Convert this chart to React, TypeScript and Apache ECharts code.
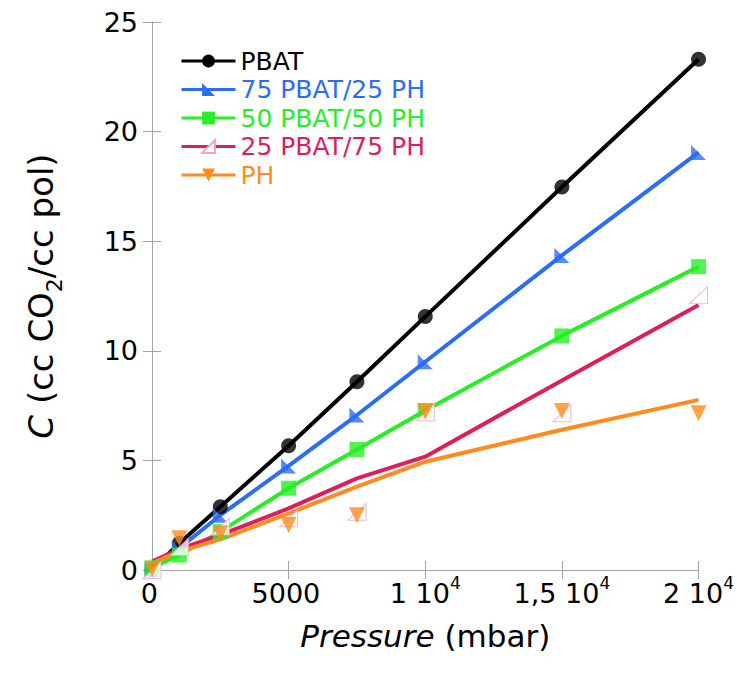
import React, { useEffect, useRef } from "react";
import * as echarts from "echarts";

const pressure = [0, 1000, 2500, 5000, 7500, 10000, 15000, 20000];
const seriesNames = ["PBAT", "75 PBAT/25 PH", "50 PBAT/50 PH", "25 PBAT/75 PH", "PH"];

// measured points (markers)
const pbatPts = [0, 1.22, 2.89, 5.67, 8.59, 11.56, 17.47, 23.3];
const p75Pts = [0, 1.0, 2.5, 4.75, 7.07, 9.5, 14.35, 19.05];
const p50Pts = [0.1, 0.68, 1.75, 3.73, 5.5, 7.28, 10.68, 13.84];
const p25Pts = [0, 1.05, 1.98, 2.36, 2.66, 7.2, 7.15, 12.54];
const phPts = [0.05, 1.45, 1.67, 2.05, 2.5, 7.22, 7.25, 7.15];

// drawn curves
const pbatLine = [0, 1.22, 2.89, 5.67, 8.59, 11.56, 17.47, 23.3];
const p75Line = [0, 1.0, 2.5, 4.75, 7.07, 9.5, 14.35, 19.05];
const p50Line = [0.1, 0.68, 1.75, 3.73, 5.5, 7.28, 10.68, 13.84];
const p25Line = [0.38, 0.95, 1.6, 2.81, 4.18, 5.17, 8.65, 12.09];
const phLine = [0.3, 0.85, 1.4, 2.58, 3.8, 4.94, 6.4, 7.76];

const xTickValues = [0, 5000, 10000, 15000, 20000];
const xTickMain = ["0", "5000", "1 10", "1,5 10", "2 10"];
const xTickExp = ["", "", "4", "4", "4"];

const colors = ["#000000", "#2b6df5", "#26ef26", "#dc1f5b", "#ff8b1e"];
const pinkOutline = "#f3a2c5";

const FONT = "DejaVu Sans";

export default function App() {
  const ref = useRef<HTMLDivElement>(null);
  useEffect(() => {
    if (!ref.current) return;
    const chart = echarts.init(ref.current, null, { renderer: "svg" });
    const pts = [pbatPts, p75Pts, p50Pts, p25Pts, phPts];
    const lines = [pbatLine, p75Line, p50Line, p25Line, phLine];
    const symbols = [
      "circle",
      "path://M0,0 L0,10 L10,10 Z",
      "rect",
      "path://M10,0 L10,10 L0,10 Z",
      "path://M0,0 L10,0 L5,10 Z",
    ];
    const sizes = [15, 15, 15, [18, 17], 16];
    const itemStyles = colors.map((c, i) =>
      i === 3 ? { color: "#ffffff", borderColor: pinkOutline, borderWidth: 1 } : { color: c }
    );

    const lineSeries = seriesNames.map((n, i) => ({
      type: "line",
      name: n,
      data: pressure.map((x, k) => [x, lines[i][k]]),
      showSymbol: false,
      symbol: symbols[i],
      symbolSize: sizes[i],
      lineStyle: { color: colors[i], width: 4 },
      itemStyle: itemStyles[i],
      z: 2,
    }));
    const scatterSeries = seriesNames.map((n, i) => ({
      type: "scatter",
      name: n,
      data: pressure.map((x, k) => [x, pts[i][k]]),
      symbol: symbols[i],
      symbolSize: sizes[i],
      itemStyle: itemStyles[i],
      z: 3,
    }));

    const axisLineStyle = { color: "#a3a3a3", width: 1 };
    chart.setOption({
      animation: false,
      legend: {
        orient: "vertical",
        left: 180,
        top: 47,
        padding: 0,
        itemWidth: 54,
        itemHeight: 16,
        itemGap: 0.5,
        lineStyle: { width: 3 },
        textStyle: { fontSize: 25, fontFamily: FONT, lineHeight: 28 },
        data: seriesNames.map((n, i) => ({ name: n, textStyle: { color: colors[i] } })),
      },
      grid: { left: 152, right: 38, top: 22, bottom: 103, containLabel: false },
      xAxis: [
        {
          type: "value",
          min: 0,
          max: 20000,
          interval: 5000,
          position: "bottom",
          axisLine: { show: true, lineStyle: axisLineStyle },
          axisTick: { show: true, inside: true, length: 9, lineStyle: axisLineStyle },
          splitLine: { show: false },
          axisLabel: {
            margin: 10,
            color: "#000",
            fontFamily: FONT,
            formatter: (v: number) => {
              const idx = xTickValues.indexOf(v);
              if (idx < 0) return "";
              return `{b|${xTickMain[idx]}}{sup|${xTickExp[idx] || " "}}`;
            },
            rich: {
              b: { fontSize: 27, lineHeight: 27, fontFamily: FONT, color: "#000", verticalAlign: "bottom" },
              sup: {
                fontSize: 17,
                lineHeight: 17,
                fontFamily: FONT,
                color: "#000",
                padding: [0, 0, 16, 0],
                verticalAlign: "bottom",
              },
            },
          },
          name: "{i|Pressure}{n| (mbar)}",
          nameLocation: "middle",
          nameGap: 50,
          nameTextStyle: {
            rich: {
              i: { fontSize: 31, fontStyle: "italic", fontFamily: FONT, color: "#000" },
              n: { fontSize: 31, fontFamily: FONT, color: "#000" },
            },
          },
        },
        {
          type: "value",
          min: 0,
          max: 20000,
          interval: 5000,
          position: "top",
          axisLine: { show: true, lineStyle: axisLineStyle },
          axisTick: { show: true, inside: true, length: 9, lineStyle: axisLineStyle },
          axisLabel: { show: false },
          splitLine: { show: false },
        },
      ],
      yAxis: [
        {
          type: "value",
          min: 0,
          max: 25,
          interval: 5,
          position: "left",
          axisLine: { show: true, lineStyle: axisLineStyle },
          axisTick: { show: true, inside: true, length: 9, lineStyle: axisLineStyle },
          splitLine: { show: false },
          axisLabel: { margin: 14, fontSize: 27, fontFamily: FONT, color: "#000" },
          name: "{i|C}{n| (cc CO}{s|2}{n|/cc pol)}",
          nameLocation: "middle",
          nameGap: 94,
          nameTextStyle: {
            rich: {
              i: { fontSize: 34, lineHeight: 34, fontStyle: "italic", fontFamily: FONT, color: "#000", verticalAlign: "top" },
              n: { fontSize: 34, lineHeight: 34, fontFamily: FONT, color: "#000", verticalAlign: "top" },
              s: { fontSize: 22, lineHeight: 22, fontFamily: FONT, color: "#000", padding: [19, 0, 0, 0], verticalAlign: "top" },
            },
          },
        },
        {
          type: "value",
          min: 0,
          max: 25,
          interval: 5,
          position: "right",
          axisLine: { show: true, lineStyle: axisLineStyle },
          axisTick: { show: true, inside: true, length: 9, lineStyle: axisLineStyle },
          axisLabel: { show: false },
          splitLine: { show: false },
        },
      ],
      series: [...lineSeries, ...scatterSeries],
    });
    return () => chart.dispose();
  }, []);
  return <div ref={ref} style={{ width: 737, height: 673, position: "absolute", left: 0, top: 0 }} />;
}
